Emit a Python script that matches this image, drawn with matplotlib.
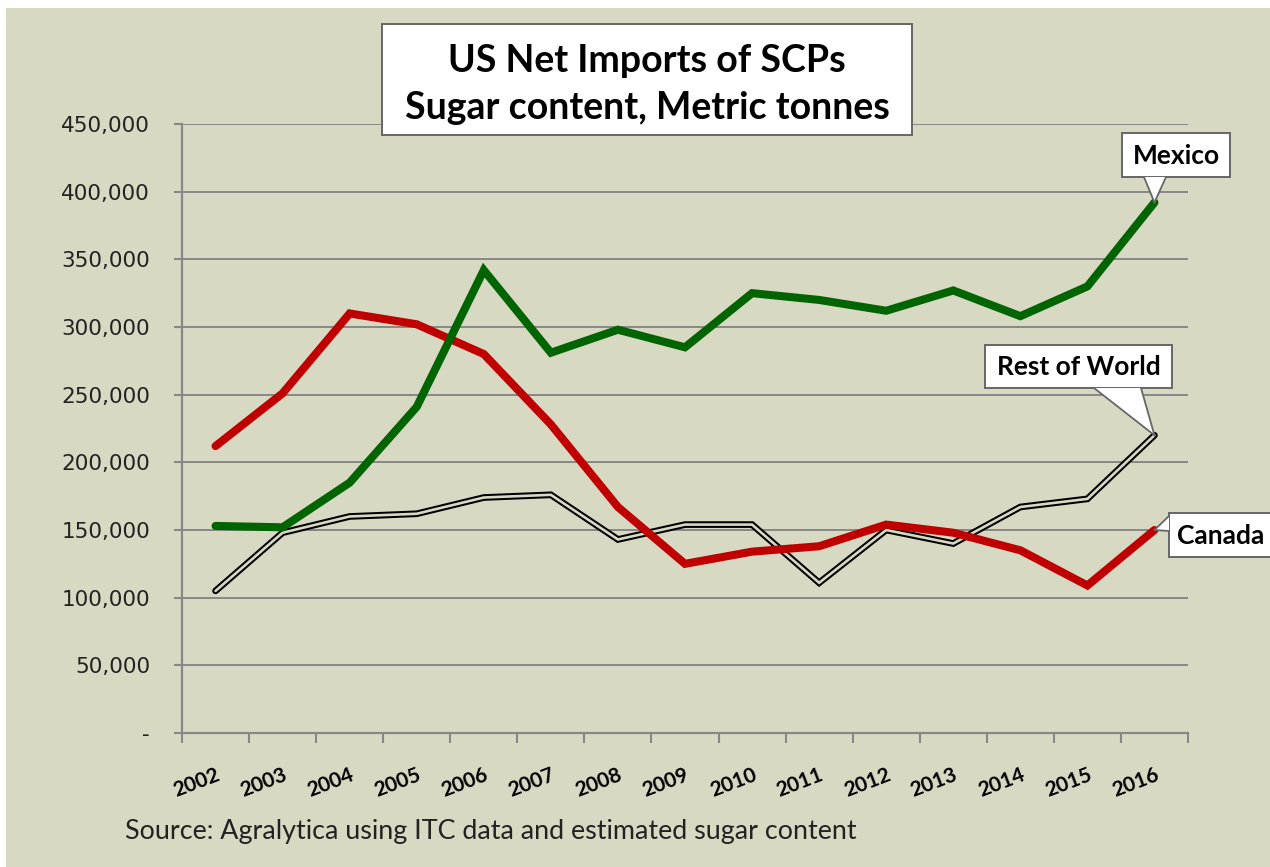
import matplotlib
matplotlib.use("Agg")
import matplotlib.pyplot as plt
from matplotlib.patches import Rectangle, Polygon
from matplotlib.lines import Line2D
from matplotlib.ticker import FuncFormatter, FixedLocator

years = ["2002", "2003", "2004", "2005", "2006", "2007", "2008", "2009",
         "2010", "2011", "2012", "2013", "2014", "2015", "2016"]
mexico = [153000, 152000, 185000, 241000, 342000, 281000, 298000, 285000,
          325000, 320000, 312000, 327000, 308000, 330000, 392000]
canada = [212000, 251000, 310000, 302000, 280000, 228000, 167000, 125000,
          134000, 138000, 154000, 148000, 135000, 109000, 150000]
rest_of_world = [105000, 148000, 160000, 162000, 174000, 176000, 143000, 154000,
                 154000, 111000, 150000, 140000, 167000, 173000, 220000]
y_ticks = [0, 50000, 100000, 150000, 200000, 250000, 300000, 350000, 400000, 450000]

BG = "#D8D9C2"
GRID = "#878787"
EDGE = "#666666"
W, H = 1270, 867

fig = plt.figure(figsize=(W / 100, H / 100), dpi=100, facecolor="white")
fig.patches.append(Rectangle((6 / W, 0), 1, 1 - 8 / H, transform=fig.transFigure,
                             facecolor=BG, edgecolor="none", zorder=-5))

ax = fig.add_axes([182 / W, (H - 733) / H, (1188 - 182) / W, (733 - 124) / H])
ax.set_facecolor(BG)
x = list(range(len(years)))

ax.set_xlim(-0.5, len(years) - 0.5)
ax.set_ylim(0, 450000)

ax.yaxis.set_major_locator(FixedLocator(y_ticks))
ax.yaxis.set_major_formatter(FuncFormatter(lambda v, p: "-" if v == 0 else f"{int(v):,}"))
ax.grid(axis="y", color=GRID, linewidth=1.4, zorder=1)
ax.set_axisbelow(True)

for s in ["top", "right"]:
    ax.spines[s].set_visible(False)
for s in ["left", "bottom"]:
    ax.spines[s].set_color(GRID)
    ax.spines[s].set_linewidth(1.6)

ax.tick_params(axis="y", length=6, width=1.5, color=GRID, labelsize=15.5,
               labelcolor="#222222", pad=17)
for lab in ax.get_yticklabels():
    lab.set_fontfamily("DejaVu Sans")

# category boundary ticks
ax.set_xticks([i - 0.5 for i in range(len(years) + 1)])
ax.set_xticklabels([])
ax.tick_params(axis="x", which="major", length=7, width=1.5, color=GRID)
ax.set_xticks(x, minor=True)
ax.set_xticklabels(years, minor=True, rotation=21, ha="right", rotation_mode="anchor",
                   fontsize=15, fontweight="bold", fontfamily="Lato")
ax.tick_params(axis="x", which="minor", length=0, pad=23)

# lines
ax.plot(x, rest_of_world, color="black", lw=4.8, solid_joinstyle="miter", solid_capstyle="round", zorder=3)
ax.plot(x, rest_of_world, color=BG, lw=1.9, solid_joinstyle="miter", solid_capstyle="round", zorder=3.1)
ax.plot(x, canada, color="#C00000", lw=5.8, solid_capstyle="round", solid_joinstyle="miter", zorder=4)
ax.plot(x, mexico, color="#006400", lw=5.8, solid_capstyle="round", solid_joinstyle="miter", zorder=5)

# callouts (box and pointer in figure pixels, y measured from top; tip at data point)
fig.canvas.draw()


def px(xp, yp):
    return (xp / W, 1 - yp / H)


def callout(text, xi, yv, box, base):
    x0, y0, x1, y1 = box
    fig.patches.append(Rectangle(px(x0, y1), (x1 - x0) / W, (y1 - y0) / H,
                                 transform=fig.transFigure, facecolor="white",
                                 edgecolor=EDGE, lw=1.4, zorder=30))
    tip_disp = ax.transData.transform((xi, yv))
    tip = fig.transFigure.inverted().transform(tip_disp)
    b1, b2 = px(*base[0]), px(*base[1])
    fig.patches.append(Polygon([b1, b2, tip], closed=True, transform=fig.transFigure,
                               facecolor="white", edgecolor="none", zorder=31))
    for b in (b1, b2):
        fig.lines.append(Line2D([b[0], tip[0]], [b[1], tip[1]], transform=fig.transFigure,
                                color=EDGE, lw=1.3, zorder=32))
    fig.text((x0 + x1) / 2 / W, 1 - ((y0 + y1) / 2 + 1) / H, text, ha="center", va="center",
             fontsize=19, fontweight="bold", fontfamily="Lato", zorder=33)


last = len(years) - 1
callout("Mexico", last, mexico[last], (1122, 133, 1230, 177), [(1144, 177), (1166, 177)])
callout("Rest of World", last, rest_of_world[last], (985, 345, 1172, 388), [(1094, 388), (1141, 388)])
callout("Canada", last, canada[last], (1169, 513, 1273, 557), [(1169, 516), (1169, 531)])

# title box
fig.patches.append(Rectangle((382 / W, 1 - 135 / H), 530 / W, 111 / H, transform=fig.transFigure,
                             facecolor="white", edgecolor=EDGE, lw=1.4, zorder=20))
fig.text(647 / W, 1 - 61 / H, "US Net Imports of SCPs", ha="center", va="center",
         fontsize=27, fontweight="bold", fontfamily="Lato", zorder=21)
fig.text(647 / W, 1 - 108 / H, "Sugar content, Metric tonnes", ha="center", va="center",
         fontsize=27, fontweight="bold", fontfamily="Lato", zorder=21)

fig.text(125 / W, 1 - 832 / H, "Source: Agralytica using ITC data and estimated sugar content",
         ha="left", va="center", fontsize=19.4, fontfamily="Lato", color="#222222")

fig.savefig("out.png", dpi=100, facecolor=fig.get_facecolor())
